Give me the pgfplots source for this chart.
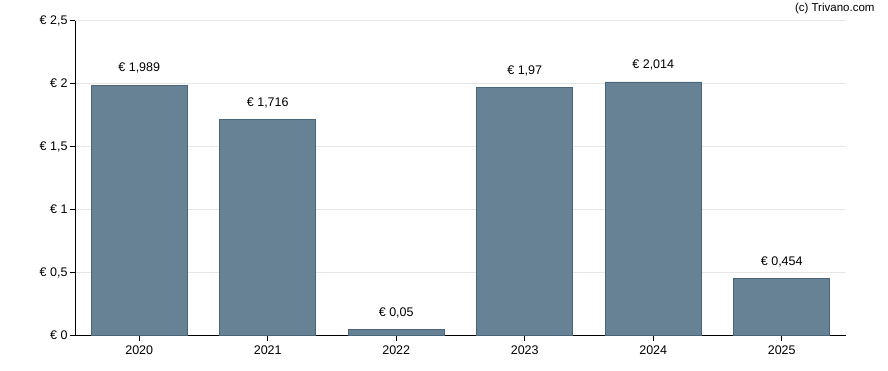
\documentclass[border=0pt]{standalone}
\usepackage{pgfplots}
\pgfplotsset{compat=1.18}
\usepackage{fontspec}
\setmainfont{Liberation Sans}
\definecolor{barfill}{HTML}{668294}
\definecolor{baredge}{HTML}{4A6479}
\definecolor{gridc}{HTML}{E6E6E6}
\begin{document}
\begin{tikzpicture}
\begin{axis}[
  at={(0,0)}, anchor=south west,
  scale only axis, width=771pt, height=315pt,
  xmin=-0.5, xmax=5.5, ymin=0, ymax=2.5,
  axis x line*=bottom, axis y line*=left,
  axis line style={black, line width=0.9pt},
  xtick={0,1,2,3,4,5},
  xticklabels={2020,2021,2022,2023,2024,2025},
  ytick={0,0.5,1,1.5,2,2.5},
  yticklabels={{€ 0},{€ 0,5},{€ 1},{€ 1,5},{€ 2},{€ 2,5}},
  tick style={black, line width=0.8pt},
  tick align=outside, major tick length=5pt,
  ymajorgrids, grid style={gridc, line width=0.7pt},
  tick label style={font=\fontsize{12.5}{14}\selectfont},
  xticklabel style={yshift=-2pt},
  yticklabel style={xshift=1pt},
  ybar, bar width=96pt,
  point meta=explicit symbolic,
  nodes near coords,
  nodes near coords style={font=\fontsize{12.5}{14}\selectfont, yshift=8pt},
  clip=false,
]
\addplot[fill=barfill, draw=baredge, line width=0.7pt] coordinates {
  (0,1.989) [€ 1,989]
  (1,1.716) [€ 1,716]
  (2,0.05) [€ 0,05]
  (3,1.97) [€ 1,97]
  (4,2.014) [€ 2,014]
  (5,0.454) [€ 0,454]
};
\end{axis}
\node[anchor=east, font=\fontsize{11.5}{13}\selectfont] at (803pt,327pt) {(c) Trivano.com};
\path[use as bounding box] (-75pt,-35pt) rectangle (813pt,335pt);
\end{tikzpicture}
\end{document}
